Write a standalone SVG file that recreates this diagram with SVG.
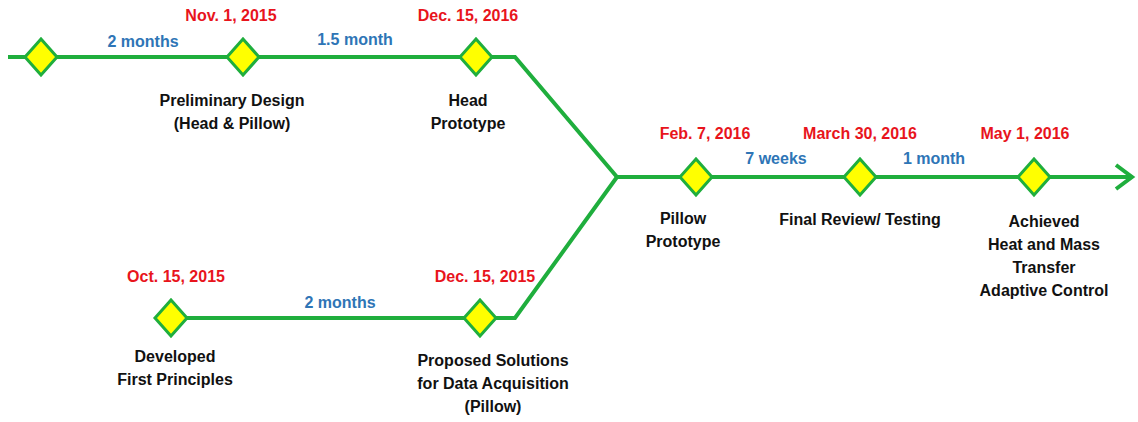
<svg xmlns="http://www.w3.org/2000/svg" width="1138" height="422" viewBox="0 0 1138 422">
<style>
.ln{fill:none;stroke:#1fae3d;stroke-width:4;stroke-linejoin:miter}
.dm{fill:#ffff00;stroke:#1fae3d;stroke-width:3}
text{font-family:"Liberation Sans",Arial,sans-serif;font-weight:bold;font-size:16px;text-anchor:middle}
.d{fill:#e8141c}
.b{fill:#2e75b6}
.k{fill:#111}
</style>
<defs>
<polygon id="dia" class="dm" points="0,-18 16,0 0,18 -16,0"/>
</defs>
<g id="connectors">
<polyline class="ln" points="8,57 515,57 617,177"/>
<polyline class="ln" points="160,318 515,318 617,177"/>
<line class="ln" x1="617" y1="177" x2="1132" y2="177"/>
<polyline class="ln" points="1116,165 1132,177 1116,189"/>
<text class="b" x="143" y="47">2 months</text>
<text class="b" x="355" y="45">1.5 month</text>
<text class="b" x="776" y="164">7 weeks</text>
<text class="b" x="934" y="164">1 month</text>
<text class="b" x="340" y="308">2 months</text>
</g>
<g id="start"><use href="#dia" x="41" y="57"/></g>
<g id="preliminary-design"><use href="#dia" x="243" y="57"/>
<text class="d" x="231" y="21">Nov. 1, 2015</text>
<text class="k" x="232" y="106">Preliminary Design</text>
<text class="k" x="232" y="129">(Head &amp; Pillow)</text></g>
<g id="head-prototype"><use href="#dia" x="476" y="57"/>
<text class="d" x="468" y="21">Dec. 15, 2016</text>
<text class="k" x="468" y="106">Head</text>
<text class="k" x="468" y="129">Prototype</text></g>
<g id="first-principles"><use href="#dia" x="171" y="318"/>
<text class="d" x="176" y="282">Oct. 15, 2015</text>
<text class="k" x="175" y="362">Developed</text>
<text class="k" x="175" y="385">First Principles</text></g>
<g id="proposed-solutions"><use href="#dia" x="480" y="318"/>
<text class="d" x="485" y="282">Dec. 15, 2015</text>
<text class="k" x="493" y="366">Proposed Solutions</text>
<text class="k" x="493" y="389">for Data Acquisition</text>
<text class="k" x="493" y="412">(Pillow)</text></g>
<g id="pillow-prototype"><use href="#dia" x="696" y="177"/>
<text class="d" x="705" y="139">Feb. 7, 2016</text>
<text class="k" x="683" y="224">Pillow</text>
<text class="k" x="683" y="247">Prototype</text></g>
<g id="final-review"><use href="#dia" x="860" y="177"/>
<text class="d" x="860" y="139">March 30, 2016</text>
<text class="k" x="860" y="225">Final Review/ Testing</text></g>
<g id="achieved"><use href="#dia" x="1034" y="177"/>
<text class="d" x="1025" y="139">May 1, 2016</text>
<text class="k" x="1044" y="227">Achieved</text>
<text class="k" x="1044" y="250">Heat and Mass</text>
<text class="k" x="1044" y="273">Transfer</text>
<text class="k" x="1044" y="296">Adaptive Control</text></g>
</svg>
